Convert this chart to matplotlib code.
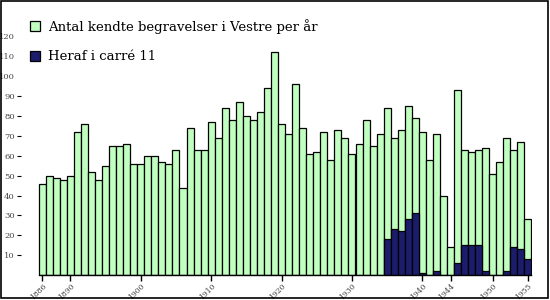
#!/usr/bin/env python
# -*- coding: utf-8 -*-
"""Begravelser i Vestre per aar"""

import numpy as np
import matplotlib as mpl
mpl.use("Agg")
import matplotlib.pyplot as plt
from matplotlib.patches import Rectangle

years = list(range(1886, 1956))
total = [46, 50, 49, 48, 50, 72, 76, 52, 48, 55,
         65, 65, 66, 56, 56, 60, 60, 57, 56, 63,
         44, 74, 63, 63, 77, 69, 84, 78, 87, 80,
         78, 82, 94, 112, 76, 71, 96, 74, 61, 62,
         72, 58, 73, 69, 61, 66, 78, 65, 71, 84,
         69, 73, 85, 79, 72, 58, 71, 40, 14, 93,
         63, 62, 63, 64, 51, 57, 69, 63, 67, 28]
carre11 = [0] * 49 + [18, 23, 22, 28, 31, 1, 0, 2, 0, 0, 6,
                      15, 15, 15, 2, 0, 0, 2, 14, 13, 8]
tick_years = [1886, 1890, 1900, 1910, 1920, 1930, 1940, 1944, 1950, 1955]
yticks = list(range(10, 130, 10))

label_total = 'Antal kendte begravelser i Vestre per år'
label_carre = 'Heraf i carré 11'

green = '#c0ffc0'
navy = '#1c1c6c'

plt.rcParams['font.family'] = ['DejaVu Serif']

W, H = 550, 300
fig = plt.figure(figsize=(5.5, 3.0), dpi=100)
ax = fig.add_axes([21.1 / W, (H - 275.3) / H, 510.4 / W, 267.3 / H])

x = np.arange(len(years))
ax.bar(x, total, width=1.0, color=green, edgecolor='black', linewidth=0.9,
       label=label_total)
c = np.array(carre11)
m = c > 0
ax.bar(x[m], c[m], width=1.0, color=navy, edgecolor='black', linewidth=0.9,
       label=label_carre)

ax.set_xlim(-3, len(years) - 0.5)
ax.set_ylim(0, 134)

for s in ['top', 'right', 'left']:
    ax.spines[s].set_visible(False)
ax.spines['bottom'].set_bounds(-0.5, len(years) - 0.5)
ax.spines['bottom'].set_linewidth(1.0)

ax.set_xticks([years.index(y) for y in tick_years])
ax.set_xticklabels([str(y) for y in tick_years], rotation=45, ha='right',
                   va='top', rotation_mode='anchor', fontsize=5.5,
                   color='#444444')
ax.tick_params(axis='x', length=4.5, width=1.0, pad=0)

ax.set_yticks(yticks)
ax.set_yticklabels([str(v) for v in yticks], fontsize=6, color='#444444')
ax.tick_params(axis='y', length=3, width=0.8, pad=1.5)
for t, v in zip(ax.yaxis.get_major_ticks(), yticks):
    if v > 90:
        t.tick1line.set_visible(False)

ax.legend(loc='upper left', bbox_to_anchor=(30 / W, 1 - 19 / H),
          bbox_transform=fig.transFigure, frameon=False, fontsize=9.5,
          handlelength=0.75, handleheight=0.75, handletextpad=0.6,
          labelspacing=1.25, borderpad=0, borderaxespad=0)

fig.patches.append(Rectangle((1 / W, 2 / H), 547 / W, 297 / H,
                             transform=fig.transFigure, fill=False,
                             edgecolor='black', linewidth=1.2))

plt.savefig('out.png', dpi=100)
